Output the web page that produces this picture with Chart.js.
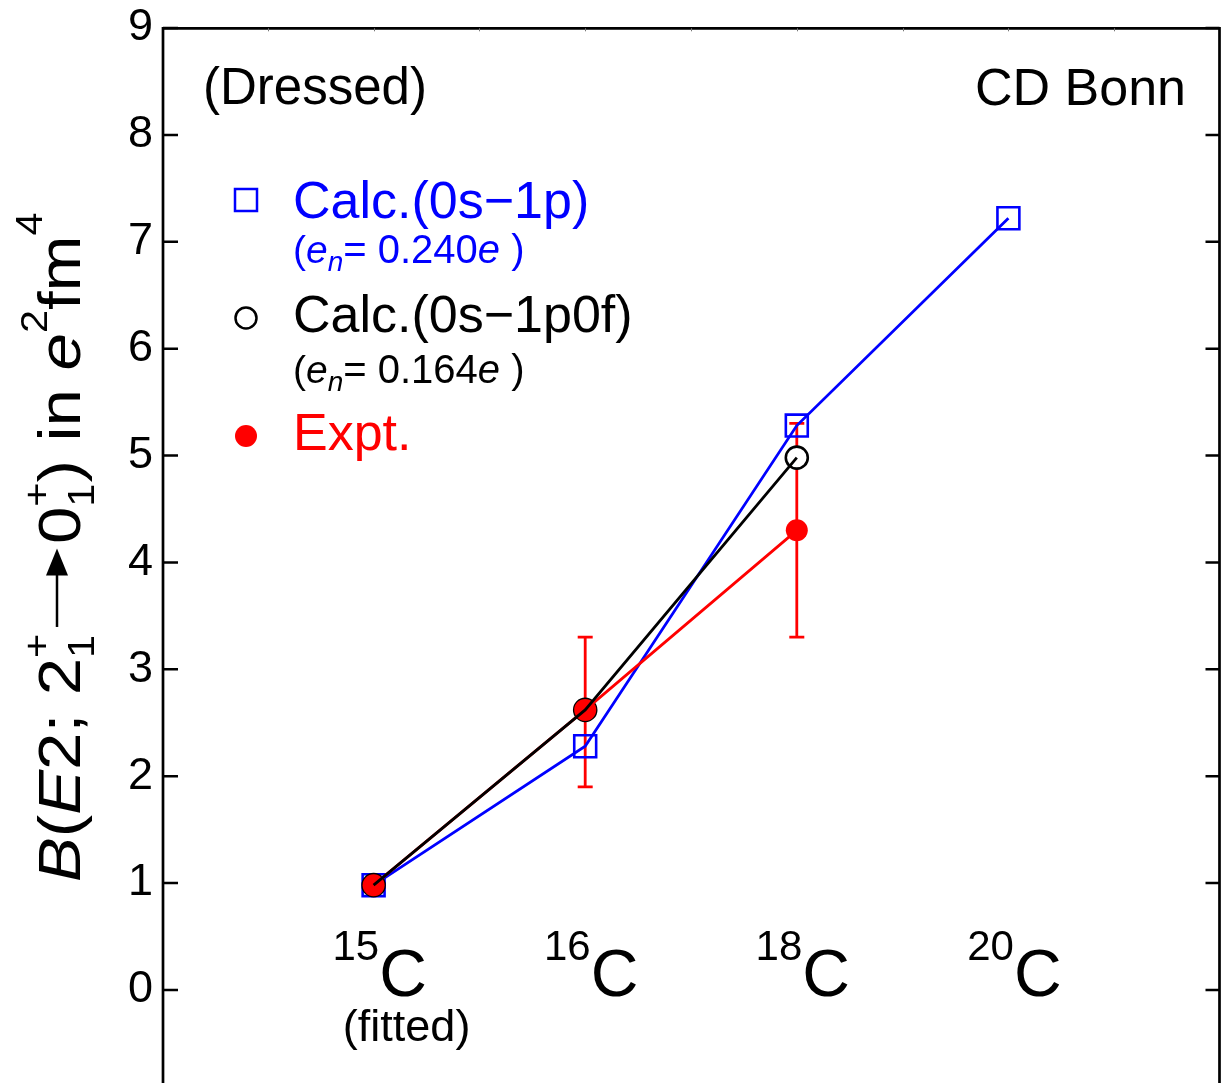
<!DOCTYPE html>
<html>
<head>
<meta charset="utf-8">
<script src="https://cdn.jsdelivr.net/npm/chart.js@4.4.0/dist/chart.umd.min.js"></script>
<style>
html,body{margin:0;padding:0;background:#fff;}
canvas{display:block;}
</style>
</head>
<body>
<canvas id="c" width="1221" height="1083"></canvas>
<script>
// ---------- data ----------
const massNumbers = ['15', '16', '18', '20'];          // carbon isotopes
const categoryIndex = [0, 1, 2, 3];
const calc0s1p = [0.98, 2.28, 5.28, 7.22];            // blue squares
const calc0s1p0f = [0.98, 2.62, 4.98, null];          // black circles
const expt = [0.98, 2.62, 4.30, null];                // red dots
const exptErrLow = [null, 1.90, 3.30, null];
const exptErrHigh = [null, 3.30, 5.30, null];
const yTickValues = [0, 1, 2, 3, 4, 5, 6, 7, 8, 9];
const topTickValues = [-0.5, 0, 0.5, 1, 1.5, 2, 2.5, 3, 3.5];

const BLUE = '#0000ff', RED = '#ff0000', BLACK = '#000000';
const FAM = "'Liberation Sans', Arial, Helvetica, sans-serif";
const LW = 2.8;
function font(size, italic) { return (italic ? 'italic ' : '') + size + 'px ' + FAM; }

function pts(arr) {
  const out = [];
  arr.forEach((v, i) => { if (v !== null) out.push({ x: categoryIndex[i], y: v }); });
  return out;
}

// rich text: sequential parts along baseline
function drawRich(ctx, parts, x0, y0, measureOnly) {
  let x = x0;
  for (const p of parts) {
    if (p.gap) { x += p.gap; continue; }
    if (p.arrow) {
      if (!measureOnly) {
        const y = y0 + p.dy;
        ctx.save();
        ctx.strokeStyle = p.color || BLACK; ctx.fillStyle = p.color || BLACK;
        ctx.lineWidth = 2.5;
        ctx.beginPath(); ctx.moveTo(x, y); ctx.lineTo(x + p.arrow - p.head + 2, y); ctx.stroke();
        ctx.beginPath(); ctx.moveTo(x + p.arrow, y); ctx.lineTo(x + p.arrow - p.head, y - p.hw); ctx.lineTo(x + p.arrow - p.head, y + p.hw); ctx.closePath(); ctx.fill();
        ctx.restore();
      }
      x += p.arrow; continue;
    }
    if (p.stack) {
      ctx.font = font(p.s, false);
      const w1 = ctx.measureText(p.sub).width, w2 = ctx.measureText(p.sup).width;
      if (!measureOnly) {
        ctx.fillStyle = p.color || BLACK;
        ctx.fillText(p.sub, x, y0 + p.subDy);
        ctx.fillText(p.sup, x, y0 + p.supDy);
      }
      x += Math.max(w1, w2); continue;
    }
    ctx.font = font(p.s, p.i);
    const w = ctx.measureText(p.t).width;
    if (!measureOnly) {
      ctx.fillStyle = p.color || BLACK;
      ctx.fillText(p.t, x, y0 + (p.dy || 0));
    }
    x += w;
  }
  return x - x0;
}

const overlay = {
  id: 'overlay',
  beforeDatasetsDraw(chart) {
    const ctx = chart.ctx, xs = chart.scales.x, ys = chart.scales.y;
    ctx.save();
    ctx.strokeStyle = RED; ctx.lineWidth = LW;
    exptErrLow.forEach((lo, i) => {
      if (lo === null) return;
      const hi = exptErrHigh[i];
      const px = xs.getPixelForValue(categoryIndex[i]);
      const y1 = ys.getPixelForValue(lo), y2 = ys.getPixelForValue(hi);
      ctx.beginPath();
      ctx.moveTo(px, y1); ctx.lineTo(px, y2);
      ctx.moveTo(px - 7.5, y1); ctx.lineTo(px + 7.5, y1);
      ctx.moveTo(px - 7.5, y2); ctx.lineTo(px + 7.5, y2);
      ctx.stroke();
    });
    ctx.restore();
  },
  afterDraw(chart) {
    const ctx = chart.ctx, xs = chart.scales.x, ys = chart.scales.y;
    ctx.save();
    // frame
    ctx.strokeStyle = BLACK; ctx.lineWidth = 2.7; ctx.lineCap = 'butt';
    const L = 163, R = 1219.5, T = 28.3, B = 1083;
    ctx.beginPath();
    ctx.moveTo(L, B); ctx.lineTo(L, T); ctx.lineTo(R, T); ctx.lineTo(R, B);
    ctx.stroke();
    // y ticks inward, both sides
    ctx.lineWidth = 2.5;
    yTickValues.forEach(v => {
      const py = ys.getPixelForValue(v);
      ctx.beginPath();
      ctx.moveTo(L, py); ctx.lineTo(L + 15, py);
      ctx.moveTo(R, py); ctx.lineTo(R - 14, py);
      ctx.stroke();
    });
    // faint top ticks
    ctx.strokeStyle = '#777'; ctx.lineWidth = 1;
    topTickValues.forEach(v => {
      const px = Math.round(xs.getPixelForValue(v)) + 0.5;
      ctx.beginPath(); ctx.moveTo(px, T); ctx.lineTo(px, T + 3); ctx.stroke();
    });

    ctx.textBaseline = 'alphabetic';
    ctx.textAlign = 'left';
    // corner labels
    ctx.fillStyle = BLACK;
    ctx.font = font(51, false);
    ctx.fillText('(Dressed)', 203, 104);
    ctx.textAlign = 'right';
    ctx.font = font(52, false);
    ctx.fillText('CD Bonn', 1186, 105);
    ctx.textAlign = 'left';

    // legend
    const mx = 246;
    ctx.lineWidth = 2.5;
    ctx.strokeStyle = BLUE;
    ctx.strokeRect(mx - 11, 200 - 11, 22, 22);
    ctx.strokeStyle = BLACK;
    ctx.beginPath(); ctx.arc(mx, 318, 10.5, 0, Math.PI * 2); ctx.stroke();
    ctx.fillStyle = RED;
    ctx.beginPath(); ctx.arc(mx, 436, 11, 0, Math.PI * 2); ctx.fill();

    const lx = 293;
    ctx.font = font(52, false);
    ctx.fillStyle = BLUE; ctx.fillText('Calc.(0s\u22121p)', lx, 218);
    ctx.fillStyle = BLACK; ctx.fillText('Calc.(0s\u22121p0f)', lx, 332);
    ctx.fillStyle = RED; ctx.fillText('Expt.', lx, 450);
    const sub = (val, color) => [
      { t: '(', s: 39, color }, { t: 'e', s: 39, i: true, color },
      { t: 'n', s: 28, i: true, dy: 8, color }, { t: '= ' + val, s: 40, color },
      { t: 'e', s: 40, i: true, color }, { t: ' )', s: 40, color }
    ];
    drawRich(ctx, sub('0.240', BLUE), lx, 263);
    drawRich(ctx, sub('0.164', BLACK), lx, 383);

    // x category labels inside the frame
    massNumbers.forEach((m, i) => {
      const cx = xs.getPixelForValue(categoryIndex[i]) + 6;
      ctx.font = font(42, false); const ws = ctx.measureText(m).width;
      ctx.font = font(66, false); const wc = ctx.measureText('C').width;
      const sx = cx - (ws + wc) / 2;
      ctx.fillStyle = BLACK;
      ctx.font = font(42, false); ctx.fillText(m, sx, 960);
      ctx.font = font(66, false); ctx.fillText('C', sx + ws, 996);
    });
    ctx.font = font(45, false); ctx.textAlign = 'center';
    ctx.fillText('(fitted)', xs.getPixelForValue(categoryIndex[0]) + 33, 1041);
    ctx.textAlign = 'left';

    // y-axis title (rotated)
    const F = 60, S = 37;
    const title = [
      { t: 'B', s: F, i: true }, { t: '(', s: F }, { t: 'E', s: F, i: true }, { t: '2; 2', s: F },
      { stack: true, sub: '1', sup: '+', s: S, subDy: 14, supDy: -31 },
      { gap: 6 }, { arrow: 70, head: 24, hw: 11, dy: -23 }, { gap: 4 },
      { t: '0', s: F },
      { stack: true, sub: '1', sup: '+', s: S, subDy: 14, supDy: -31 },
      { t: ') in ', s: F }, { t: 'e', s: F, i: true }, { t: '2', s: S, dy: -33 },
      { t: 'fm', s: F }, { t: '4', s: S, dy: -38 }
    ];
    ctx.translate(80, 882);
    ctx.rotate(-Math.PI / 2);
    ctx.scale(1.12, 1);
    drawRich(ctx, title, 0, 0);
    ctx.restore();
  }
};

new Chart(document.getElementById('c'), {
  type: 'line',
  data: {
    datasets: [
      { label: 'Calc.(0s\u22121p)', data: pts(calc0s1p), borderColor: BLUE, borderWidth: LW,
        pointStyle: 'rect', pointRadius: 15.5, pointBorderWidth: 2.6, pointBorderColor: BLUE,
        pointBackgroundColor: 'rgba(0,0,0,0)', tension: 0, fill: false, order: 4 },
      { label: 'Calc.(0s\u22121p0f) markers', data: pts(calc0s1p0f), showLine: false,
        pointStyle: 'circle', pointRadius: 11, pointBorderWidth: 2.6, pointBorderColor: BLACK,
        pointBackgroundColor: '#ffffff', order: 3 },
      { label: 'Expt.', data: pts(expt), borderColor: RED, borderWidth: LW,
        pointStyle: 'circle', pointRadius: 11, pointBorderWidth: 0, pointBackgroundColor: RED,
        tension: 0, fill: false, order: 2 },
      { label: 'Calc.(0s\u22121p0f)', data: pts(calc0s1p0f), borderColor: BLACK, borderWidth: LW,
        pointRadius: 0, tension: 0, fill: false, order: 1 }
    ]
  },
  options: {
    responsive: false,
    animation: false,
    events: [],
    layout: { autoPadding: false, padding: { top: 28, right: 1, bottom: 0, left: 0 } },
    plugins: { legend: { display: false }, tooltip: { enabled: false }, title: { display: false } },
    scales: {
      x: { type: 'linear', min: -1, max: 4, display: false },
      y: {
        type: 'linear', min: -0.871, max: 9,
        grid: { display: false, drawTicks: false },
        border: { display: false },
        afterBuildTicks: s => { s.ticks = yTickValues.map(v => ({ value: v })); },
        afterFit: s => { s.width = 162; s.paddingTop = 0; s.paddingBottom = 0; },
        ticks: { color: BLACK, padding: 9, font: { family: FAM, size: 45, lineHeight: 1 },
                 callback: v => String(v) }
      }
    }
  },
  plugins: [overlay]
});
</script>
</body>
</html>
